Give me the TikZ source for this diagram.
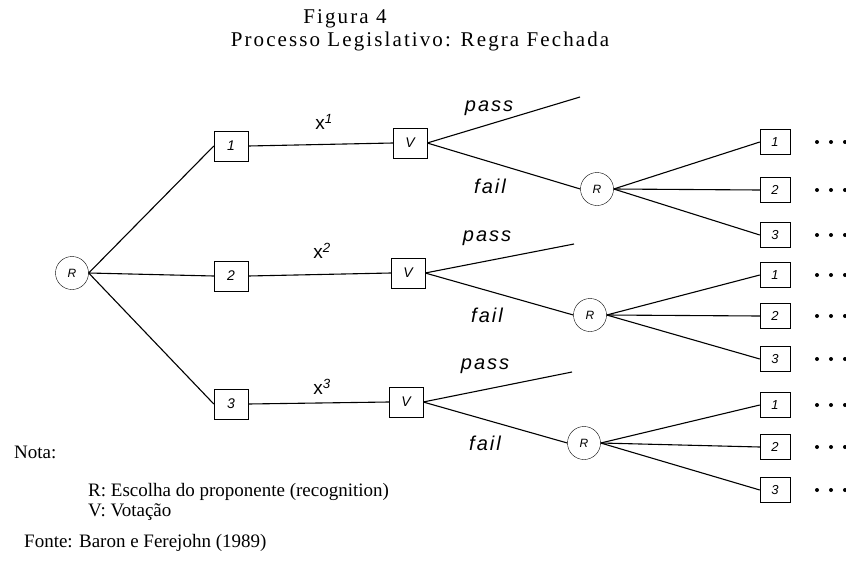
\documentclass[tikz,border=0pt]{standalone}
\usepackage{fontspec}
\setmainfont{Liberation Serif}
\setsansfont{Liberation Sans}
\newfontfamily\titlefont[LetterSpace=10]{Liberation Serif}
\newfontfamily\lblfont[LetterSpace=10]{Liberation Sans Italic}
\begin{document}
\begin{tikzpicture}[x=1pt,y=-1pt,
  rnode/.style={draw,circle,minimum size=33pt,inner sep=0pt,font=\sffamily\itshape\fontsize{12}{12}\selectfont},
  dbox/.style={draw,rectangle,minimum width=34pt,minimum height=30pt,inner sep=0pt,font=\sffamily\itshape\fontsize{14}{14}\selectfont},
  leaf/.style={draw,rectangle,minimum width=30pt,minimum height=25pt,inner sep=0pt,font=\sffamily\itshape\fontsize{13}{13}\selectfont},
  lbl/.style={font=\lblfont\fontsize{20}{20}\selectfont},
  xl/.style={font=\sffamily\fontsize{19}{19}\selectfont},
  ttl/.style={font=\titlefont\fontsize{21}{21}\selectfont},
  txt/.style={font=\fontsize{19}{19}\selectfont,anchor=west,inner sep=0pt},
  ln/.style={line width=1.1pt},
  dot/.style={fill,circle,inner sep=0pt,minimum size=4pt}]
\fill[white] (0,0) rectangle (846,565);
\useasboundingbox (0,0) rectangle (846,565);
\node[ttl] (t1) at (345,19) {Figura 4};
\node[ttl] (t2) at (420,41) {Processo Legislativo: Regra Fechada};

\node[rnode] (R0) at (72,273) {R};
\node[dbox] (b1) at (231,146) {1};
\node[dbox] (b2) at (231,276) {2};
\node[dbox] (b3) at (231,404) {3};
\draw[ln] (R0.east) -- (b1.west);
\draw[ln] (R0.east) -- (b2.west);
\draw[ln] (R0.east) -- (b3.west);

\node[dbox] (v1) at (410,143) {V};
\node[dbox] (v2) at (408,273) {V};
\node[dbox] (v3) at (406,402) {V};
\draw[ln] (b1.east) -- (v1.west);
\draw[ln] (b2.east) -- (v2.west);
\draw[ln] (b3.east) -- (v3.west);
\node[xl] (x1) at (324,122) {x\textsuperscript{\itshape 1}};
\node[xl] (x2) at (322,251) {x\textsuperscript{\itshape 2}};
\node[xl] (x3) at (322,387) {x\textsuperscript{\itshape 3}};

\coordinate (p1) at (580,97);
\coordinate (p2) at (574,244);
\coordinate (p3) at (572,372);
\node[rnode] (R1) at (597,189) {R};
\node[rnode] (R2) at (590,315) {R};
\node[rnode] (R3) at (584,443) {R};
\draw[ln] (v1.east) -- (p1);
\draw[ln] (v2.east) -- (p2);
\draw[ln] (v3.east) -- (p3);
\draw[ln] (v1.east) -- (R1.west);
\draw[ln] (v2.east) -- (R2.west);
\draw[ln] (v3.east) -- (R3.west);
\node[lbl] (pa1) at (489,108) {pass};
\node[lbl] (pa2) at (487,238) {pass};
\node[lbl] (pa3) at (485,366) {pass};
\node[lbl] (fa1) at (490,186) {fail};
\node[lbl] (fa2) at (487,315) {fail};
\node[lbl] (fa3) at (485,443) {fail};

\foreach \r/\a/\b/\c in {R1/142/190/235, R2/275/316/359, R3/405/447/490}{
  \node[leaf] (\r a) at (775,\a) {1};
  \node[leaf] (\r b) at (775,\b) {2};
  \node[leaf] (\r c) at (775,\c) {3};
  \draw[ln] (\r.east) -- (\r a.west);
  \draw[ln] (\r.east) -- (\r b.west);
  \draw[ln] (\r.east) -- (\r c.west);
  \foreach \y [count=\i] in {\a,\b,\c}{
    \node[dot] (\r d\i x) at (817,\y) {};
    \node[dot] (\r d\i y) at (831,\y) {};
    \node[dot] (\r d\i z) at (845,\y) {};
  }
}

\node[txt] (nota) at (14,452) {Nota:};
\node[txt] (nr) at (88,492) {R: Escolha do proponente (recognition)};
\node[txt] (nv) at (88,512) {V: Votação};
\node[txt] (fonte) at (24,543) {Fonte: Baron e Ferejohn (1989)};
\end{tikzpicture}
\end{document}
